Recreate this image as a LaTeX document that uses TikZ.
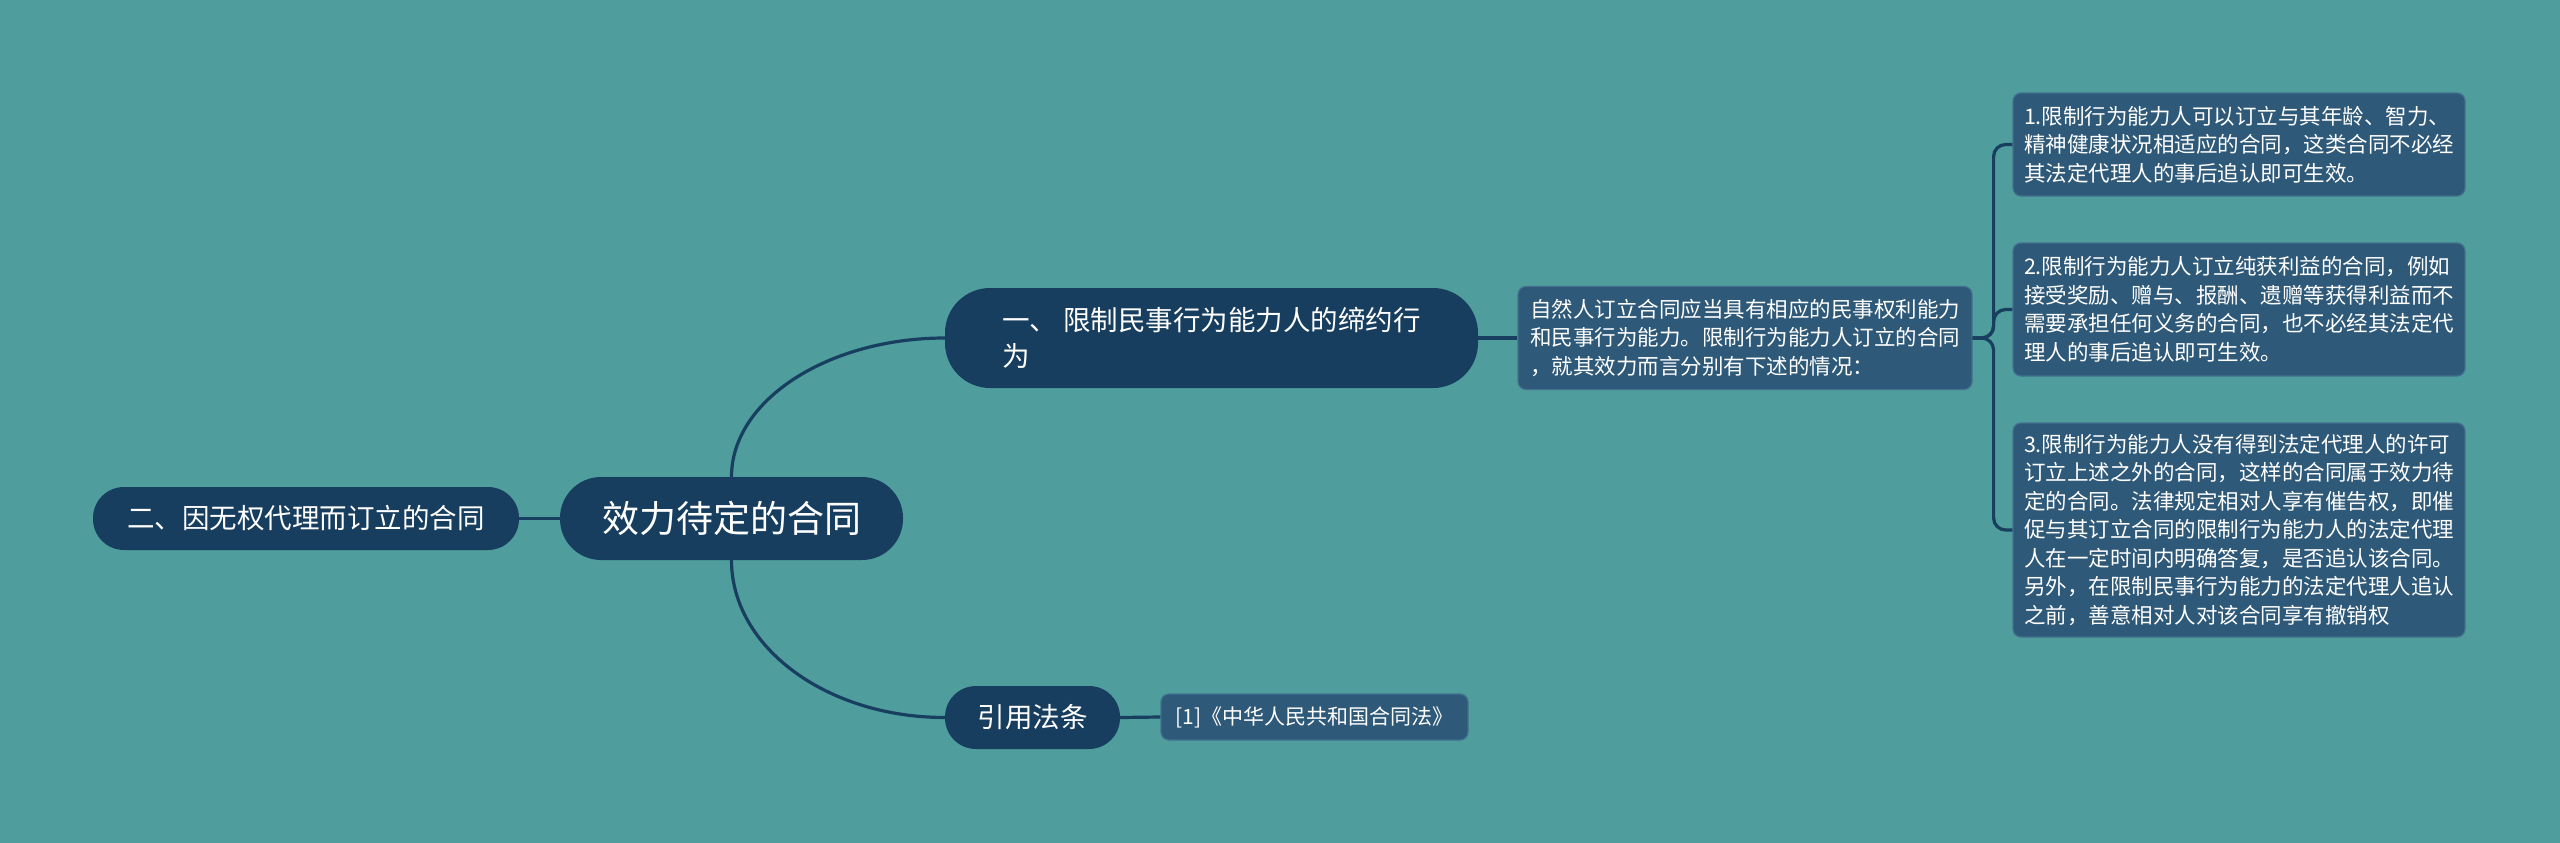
\documentclass[tikz,border=0pt]{standalone}
\usepackage{fontspec}
\setmainfont{Noto Sans CJK SC}
\definecolor{bgteal}{HTML}{4F9D9D}
\definecolor{navy}{HTML}{173E5E}
\definecolor{boxblue}{HTML}{2E5978}
\definecolor{boxedge}{HTML}{43708F}
\definecolor{linecol}{HTML}{183F5F}
\tikzset{
  pill/.style={fill=navy, text=white, inner sep=0pt, align=left},
  infobox/.style={fill=boxblue, draw=boxedge, line width=1.2pt, text=white, rounded corners=8pt, inner xsep=10pt, inner ysep=8pt, align=left, font=\fontsize{21.5}{28.5}\selectfont},
  conn/.style={draw=linecol, line width=3.2pt},
}
\begin{document}
\begin{tikzpicture}[x=1pt,y=-1pt]
\useasboundingbox[fill=bgteal] (0,0) rectangle (2560,843);

\node[pill, rounded corners=41pt, minimum width=343pt, minimum height=83pt, font=\fontsize{37}{44}\selectfont] (root) at (731.5,518.5) {效力待定的合同};
\node[pill, rounded corners=31pt, minimum width=426pt, minimum height=63pt, font=\fontsize{27.5}{34}\selectfont] (left) at (306,518.5) {二、因无权代理而订立的合同};
\node[pill, rounded corners=45pt, minimum width=533pt, minimum height=100pt, font=\fontsize{27.5}{36}\selectfont] (b1) at (1211.5,338) {一、 限制民事行为能力人的缔约行\\为};
\node[pill, rounded corners=31pt, minimum width=175pt, minimum height=63pt, font=\fontsize{27.5}{34}\selectfont] (cite) at (1032.5,717.5) {引用法条};

\node[infobox, minimum width=454pt, minimum height=103pt] (detail) at (1745,338) {自然人订立合同应当具有相应的民事权利能力\\和民事行为能力。限制行为能力人订立的合同\\，就其效力而言分别有下述的情况：};
\node[infobox, minimum width=452pt, minimum height=103pt] (box1) at (2239,144.5) {1.限制行为能力人可以订立与其年龄、智力、\\精神健康状况相适应的合同，这类合同不必经\\其法定代理人的事后追认即可生效。};
\node[infobox, minimum width=452pt, minimum height=133pt] (box2) at (2239,309.5) {2.限制行为能力人订立纯获利益的合同，例如\\接受奖励、赠与、报酬、遗赠等获得利益而不\\需要承担任何义务的合同，也不必经其法定代\\理人的事后追认即可生效。};
\node[infobox, minimum width=452pt, minimum height=214pt] (box3) at (2239,530) {3.限制行为能力人没有得到法定代理人的许可\\订立上述之外的合同，这样的合同属于效力待\\定的合同。法律规定相对人享有催告权，即催\\促与其订立合同的限制行为能力人的法定代理\\人在一定时间内明确答复，是否追认该合同。\\另外，在限制民事行为能力的法定代理人追认\\之前，善意相对人对该合同享有撤销权};
\node[infobox, minimum width=307pt, minimum height=46pt, inner ysep=4pt, font=\fontsize{21}{26}\selectfont] (cited) at (1314.5,717) {[1]《中华人民共和国合同法》};

\draw[conn] (root.west) -- (left.east);
\draw[conn] (root.north) .. controls +(0,-77) and +(-116,0) .. (b1.west);
\draw[conn] (root.south) .. controls +(0,87) and +(-118,0) .. (cite.west);
\draw[conn] (b1.east) -- (detail.west);
\draw[conn] (cite.east) -- (cited.west);
\draw[conn, rounded corners=12pt] (detail.east) -- ++(21,0) |- (box1.west);
\draw[conn, rounded corners=12pt] (detail.east) -- ++(21,0) |- (box2.west);
\draw[conn, rounded corners=12pt] (detail.east) -- ++(21,0) |- (box3.west);
\end{tikzpicture}
\end{document}
